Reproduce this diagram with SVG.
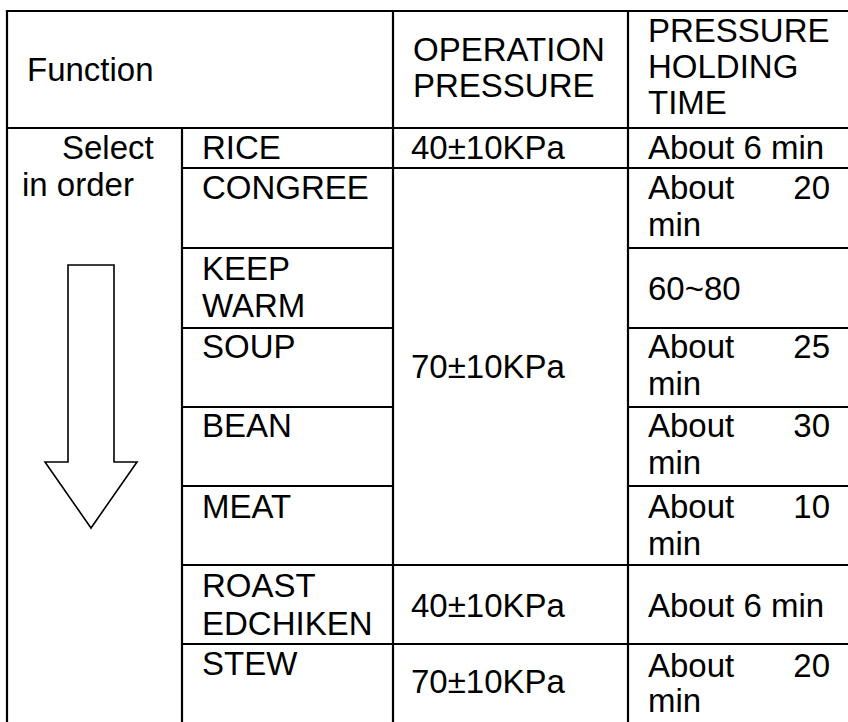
<svg xmlns="http://www.w3.org/2000/svg" width="848" height="722" viewBox="0 0 848 722">
<style>
text{font-family:"Liberation Sans",Arial,sans-serif;font-size:33px;fill:#000}
.g{stroke:#000;stroke-width:2.2;fill:none}
.arrow{stroke:#000;stroke-width:1.6;fill:#fff;stroke-linejoin:miter}
</style>
<rect width="848" height="722" fill="#fff"/>
<g id="grid" class="g">
<line x1="5.9" y1="11" x2="848" y2="11"/>
<line x1="7" y1="11" x2="7" y2="722"/>
<line x1="7" y1="128" x2="848" y2="128"/>
<line x1="182" y1="128" x2="182" y2="722"/>
<line x1="393" y1="11" x2="393" y2="722"/>
<line x1="628" y1="11" x2="628" y2="722"/>
<line x1="182" y1="168" x2="848" y2="168"/>
<line x1="182" y1="248" x2="393" y2="248"/>
<line x1="628" y1="248" x2="848" y2="248"/>
<line x1="182" y1="328" x2="393" y2="328"/>
<line x1="628" y1="328" x2="848" y2="328"/>
<line x1="182" y1="407" x2="393" y2="407"/>
<line x1="628" y1="407" x2="848" y2="407"/>
<line x1="182" y1="486" x2="393" y2="486"/>
<line x1="628" y1="486" x2="848" y2="486"/>
<line x1="182" y1="565" x2="848" y2="565"/>
<line x1="182" y1="644" x2="848" y2="644"/>
</g>
<g id="header">
<text x="27" y="81">Function</text>
<text x="413" y="61">OPERATION</text>
<text x="413" y="97">PRESSURE</text>
<text x="648" y="42">PRESSURE</text>
<text x="648" y="78">HOLDING</text>
<text x="648" y="114">TIME</text>
</g>
<g id="select">
<text x="62" y="159">Select</text>
<text x="22" y="196">in order</text>
<polygon class="arrow" points="68,265 114,265 114,462 137,462 91,528 45,462 68,462"/>
</g>
<g id="row-rice">
<text x="202" y="159">RICE</text>
<text x="411" y="159">40±10KPa</text>
<text x="648" y="159">About 6 min</text>
</g>
<g id="row-congree">
<text x="202" y="199">CONGREE</text>
<text x="648" y="199">About</text>
<text x="830" y="199" text-anchor="end">20</text>
<text x="648" y="236">min</text>
</g>
<g id="row-keepwarm">
<text x="202" y="280">KEEP</text>
<text x="202" y="317">WARM</text>
<text x="648" y="300">60~80</text>
</g>
<g id="row-soup">
<text x="202" y="358">SOUP</text>
<text x="648" y="358">About</text>
<text x="830" y="358" text-anchor="end">25</text>
<text x="648" y="395">min</text>
</g>
<g id="merged-pressure">
<text x="411" y="378">70±10KPa</text>
</g>
<g id="row-bean">
<text x="202" y="437">BEAN</text>
<text x="648" y="437">About</text>
<text x="830" y="437" text-anchor="end">30</text>
<text x="648" y="474">min</text>
</g>
<g id="row-meat">
<text x="202" y="518">MEAT</text>
<text x="648" y="518">About</text>
<text x="830" y="518" text-anchor="end">10</text>
<text x="648" y="555">min</text>
</g>
<g id="row-roast">
<text x="202" y="597">ROAST</text>
<text x="202" y="635">EDCHIKEN</text>
<text x="411" y="617">40±10KPa</text>
<text x="648" y="617">About 6 min</text>
</g>
<g id="row-stew">
<text x="202" y="675">STEW</text>
<text x="411" y="693">70±10KPa</text>
<text x="648" y="677">About</text>
<text x="830" y="677" text-anchor="end">20</text>
<text x="648" y="712">min</text>
</g>
</svg>
